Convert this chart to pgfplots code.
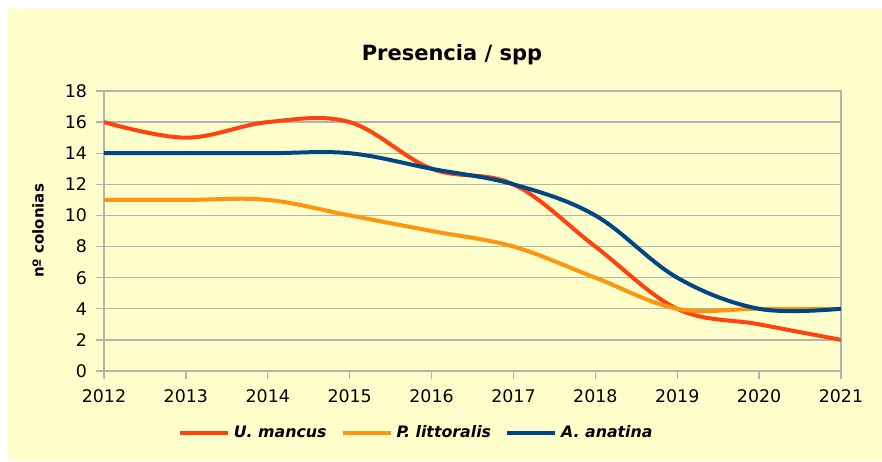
\documentclass[border=0pt]{standalone}
\usepackage{fontspec}
\setmainfont{DejaVu Sans}
\usepackage{pgfplots}
\pgfplotsset{compat=1.18}

\definecolor{bgyellow}{HTML}{FFFFCC}
\definecolor{cmancus}{HTML}{FF420E}
\definecolor{clittor}{HTML}{FF950E}
\definecolor{canatina}{HTML}{004586}
\definecolor{gridgray}{HTML}{B3B3B3}

\begin{document}
\begin{tikzpicture}
\useasboundingbox (-52pt,-45pt) rectangle (389pt,185.5pt);
\fill[bgyellow] (-48pt,-45pt) rectangle (389pt,181pt);
\begin{axis}[
    at={(0pt,0pt)}, anchor=south west,
    scale only axis,
    width=368.5pt, height=140pt,
    xmin=2012, xmax=2021,
    ymin=0, ymax=18,
    xtick={2012,2013,...,2021},
    ytick={0,2,...,18},
    xticklabel style={/pgf/number format/1000 sep={}},
    /pgf/number format/assume math mode=true,
    ticklabel style={font=\fontsize{8.7}{10}\selectfont},
    xtick pos=bottom, ytick pos=left,
    tick align=outside,
    major tick length=4pt,
    tick style={gridgray, line width=0.7pt},
    axis line style={gridgray, line width=0.7pt},
    ymajorgrids,
    grid style={gridgray, line width=0.7pt},
    xticklabel shift=2pt,
    yticklabel shift=1pt,
    axis background/.style={fill=bgyellow},
    ylabel={nº colonias},
    every axis y label/.style={at={(-0.0896,0.5)}, rotate=90, anchor=center, font=\fontsize{7.5}{9}\selectfont\bfseries},
    legend columns=3,
    legend style={at={(0.425,-0.222)}, anchor=center, draw=none, fill=none,
        font=\fontsize{7.9}{10}\selectfont\bfseries\itshape,
        /tikz/every even column/.append style={column sep=5pt}},
    legend image code/.code={\draw[#1] (0pt,0pt) -- (24pt,0pt);},
    every axis plot/.append style={line width=2pt, smooth, tension=0.6},
]
\addplot[cmancus] coordinates {
    (2012,16) (2013,15) (2014,16) (2015,16) (2016,13)
    (2017,12) (2018,8) (2019,4) (2020,3) (2021,2)
};
\addplot[clittor] coordinates {
    (2012,11) (2013,11) (2014,11) (2015,10) (2016,9)
    (2017,8) (2018,6) (2019,4) (2020,4) (2021,4)
};
\addplot[canatina] coordinates {
    (2012,14) (2013,14) (2014,14) (2015,14) (2016,13)
    (2017,12) (2018,10) (2019,6) (2020,4) (2021,4)
};
\legend{U. mancus, P. littoralis, A. anatina}
\end{axis}
\node[font=\fontsize{10.5}{12}\selectfont\bfseries] at (174pt,158pt) {Presencia / spp};
\end{tikzpicture}
\end{document}
